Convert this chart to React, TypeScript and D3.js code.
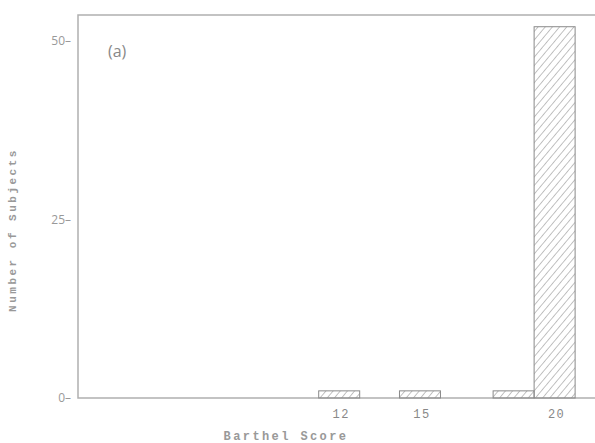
import React, { useRef, useEffect } from 'react';
import * as d3 from 'd3';

// Barthel score histogram, panel (a)
const scores = [12, 15, 19, 20];
const counts = [1, 1, 1, 52];
const xTickValues = [12, 15, 20];
const yTickValues = [0, 25, 50];

const App = () => {
  const svgRef = useRef<SVGSVGElement>(null);

  useEffect(() => {
    const width = 595;
    const height = 443;
    const marginLeft = 78;
    const marginTop = 15;
    const marginBottom = 45;
    const barWidth = 41;
    const grey = '#8a8a8a';

    const svg = d3.select(svgRef.current);
    svg.selectAll('*').remove();

    const x = d3.scaleLinear().domain([2.3, 21.5]).range([marginLeft, width]);
    const y = d3.scaleLinear().domain([0, 50]).range([height - marginBottom, 41]);

    // hatch pattern for the bars
    const defs = svg.append('defs');
    const pat = defs.append('pattern')
      .attr('id', 'hatch')
      .attr('patternUnits', 'userSpaceOnUse')
      .attr('width', 5.5)
      .attr('height', 5.5)
      .attr('patternTransform', 'rotate(40)');
    pat.append('line')
      .attr('x1', 0).attr('y1', 0).attr('x2', 0).attr('y2', 5.5)
      .attr('stroke', '#999').attr('stroke-width', 1.2);

    // frame: left, top and bottom lines
    const frame = svg.append('g').attr('stroke', '#b0b0b0').attr('stroke-width', 1.5).attr('fill', 'none');
    frame.append('path').attr('d', `M${width},${marginTop}H${marginLeft}V${y(0)}H${width}`);

    // bars; a bar that would overlap its right neighbour is pushed to its left side
    const bars = scores.map((s, i) => ({ score: s, count: counts[i], left: x(s) - barWidth / 2 }));
    for (let i = bars.length - 2; i >= 0; i--) {
      if (bars[i].left + barWidth > bars[i + 1].left) bars[i].left = bars[i + 1].left - barWidth;
    }

    svg.append('g').selectAll('rect').data(bars).join('rect')
      .attr('x', (d) => d.left)
      .attr('y', (d) => y(d.count))
      .attr('width', barWidth)
      .attr('height', (d) => y(0) - y(d.count))
      .attr('fill', 'url(#hatch)')
      .attr('stroke', grey)
      .attr('stroke-width', 1);

    // y tick labels, "50–" style
    svg.append('g').selectAll('text').data(yTickValues).join('text')
      .attr('x', 71)
      .attr('y', (d) => y(d))
      .attr('dy', '0.35em')
      .attr('text-anchor', 'end')
      .attr('font-family', 'Open Sans, sans-serif')
      .attr('font-size', 12)
      .attr('fill', '#999')
      .text((d) => `${d}–`);

    // x tick labels
    svg.append('g').selectAll('text').data(xTickValues).join('text')
      .attr('x', (d) => x(d) + 2)
      .attr('y', 418)
      .attr('text-anchor', 'middle')
      .attr('font-family', 'Liberation Mono, monospace')
      .attr('font-size', 12)
      .attr('letter-spacing', 1.5)
      .attr('fill', '#888')
      .text((d) => d);

    svg.append('text')
      .attr('x', 286)
      .attr('y', 440)
      .attr('text-anchor', 'middle')
      .attr('font-family', 'Liberation Mono, monospace')
      .attr('font-size', 12)
      .attr('font-weight', 'bold')
      .attr('letter-spacing', 2.4)
      .attr('fill', '#999')
      .text('Barthel Score');

    svg.append('text')
      .attr('transform', 'translate(16,230) rotate(-90)')
      .attr('text-anchor', 'middle')
      .attr('font-family', 'Liberation Mono, monospace')
      .attr('font-size', 11)
      .attr('font-weight', 'bold')
      .attr('letter-spacing', 2.5)
      .attr('fill', '#999')
      .text('Number of Subjects');

    svg.append('text')
      .attr('x', 108)
      .attr('y', 57)
      .attr('font-family', 'Open Sans, sans-serif')
      .attr('font-size', 16)
      .attr('fill', '#888')
      .text('(a)');
  }, []);

  return (
    <svg
      ref={svgRef}
      width={595}
      height={443}
      style={{ position: 'absolute', left: 0, top: 0, background: '#fff' }}
    />
  );
};

export default App;
